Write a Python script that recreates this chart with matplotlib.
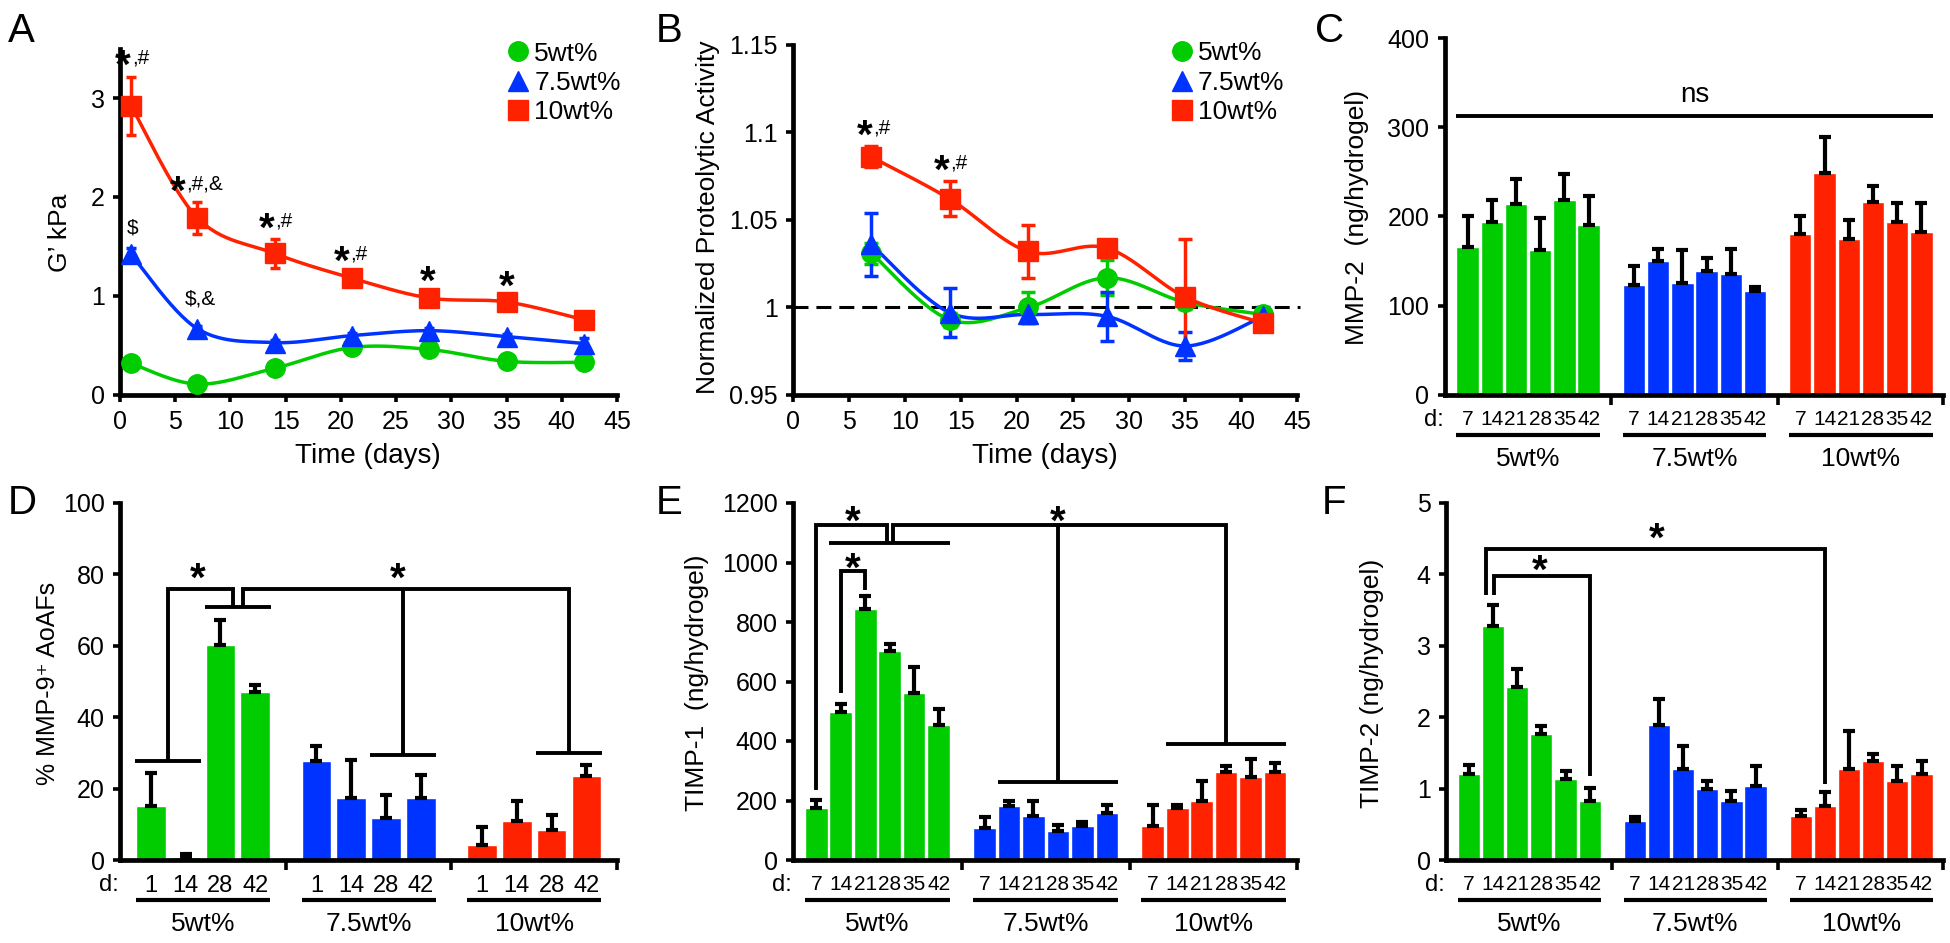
import numpy as np
import matplotlib
matplotlib.use('Agg')
import matplotlib.pyplot as plt
from matplotlib.lines import Line2D
from matplotlib.ticker import FormatStrFormatter
from matplotlib.transforms import blended_transform_factory, offset_copy

plt.rcParams['font.family'] = ['Liberation Sans', 'DejaVu Sans']
plt.rcParams['font.size'] = 18

# ---------------- data ----------------
groups = ['5wt%', '7.5wt%', '10wt%']
colors = ['#00cc00', '#0033ff', '#ff2200']
markers = ['o', '^', 's']

# A: storage modulus G' (kPa)
a_days = [1, 7, 14, 21, 28, 35, 42]
a_5 = [0.32, 0.11, 0.27, 0.48, 0.46, 0.34, 0.33]
a_5_err = [0.03, 0.03, 0.03, 0.03, 0.04, 0.02, 0.02]
a_75 = [1.42, 0.67, 0.53, 0.60, 0.65, 0.59, 0.52]
a_75_err = [0.06, 0.03, 0.03, 0.03, 0.03, 0.03, 0.06]
a_10 = [2.92, 1.79, 1.43, 1.18, 0.98, 0.94, 0.76]
a_10_err = [0.29, 0.16, 0.15, 0.07, 0.06, 0.05, 0.03]

# B: normalized proteolytic activity
b_days = [7, 14, 21, 28, 35, 42]
b_5 = [1.031, 0.993, 1.000, 1.017, 1.003, 0.996]
b_5_err = [0.006, 0.004, 0.009, 0.010, 0.004, 0.003]
b_75 = [1.036, 0.997, 0.996, 0.995, 0.978, 0.995]
b_75_err = [0.018, 0.014, 0.005, 0.014, 0.008, 0.005]
b_10 = [1.086, 1.062, 1.032, 1.034, 1.006, 0.991]
b_10_err = [0.006, 0.010, 0.015, 0.003, 0.033, 0.004]

# C: MMP-2 (ng/hydrogel)
six_days = ['7', '14', '21', '28', '35', '42']
c_5 = [166, 194, 214, 163, 219, 191]
c_5_err = [35, 24, 28, 35, 29, 32]
c_75 = [123, 150, 125, 139, 136, 117]
c_75_err = [22, 14, 38, 15, 28, 4]
c_10 = [180, 249, 175, 216, 194, 183]
c_10_err = [20, 40, 21, 18, 21, 32]

# D: % MMP-9+ AoAFs
four_days = ['1', '14', '28', '42']
d_5 = [15.2, 0.8, 60.2, 47.0]
d_5_err = [9.3, 0.8, 7.0, 2.0]
d_75 = [27.6, 17.3, 11.7, 17.3]
d_75_err = [4.4, 10.6, 6.5, 6.5]
d_10 = [4.2, 11.0, 8.4, 23.6]
d_10_err = [5.0, 5.6, 4.2, 3.0]

# E: TIMP-1 (ng/hydrogel)
e_5 = [174, 497, 844, 704, 563, 454]
e_5_err = [28, 26, 45, 21, 85, 54]
e_75 = [106, 182, 148, 99, 115, 157]
e_75_err = [37, 18, 52, 19, 12, 28]
e_10 = [114, 174, 198, 297, 280, 297]
e_10_err = [71, 11, 69, 20, 61, 28]

# F: TIMP-2 (ng/hydrogel)
f_5 = [1.21, 3.28, 2.42, 1.76, 1.14, 0.83]
f_5_err = [0.12, 0.29, 0.25, 0.11, 0.11, 0.18]
f_75 = [0.55, 1.89, 1.27, 1.00, 0.83, 1.04]
f_75_err = [0.05, 0.37, 0.33, 0.11, 0.14, 0.28]
f_10 = [0.62, 0.76, 1.27, 1.38, 1.11, 1.21]
f_10_err = [0.08, 0.19, 0.53, 0.11, 0.21, 0.18]

# significance bracket heights
D_TOP, D_MID, D_LOW, D_BLUE, D_RED = 75.9, 71.0, 27.6, 29.4, 30.1
E_TOP, E_SUB, E_G7, E_BLUE, E_RED = 1126, 1066, 235, 262, 390
E_IN_L, E_IN_TOP, E_IN_R = 561, 971, 907
F_START, F_OUT, F_IN, F_R14, F_G42 = 3.71, 4.36, 3.98, 1.07, 1.18
C_NS = 313

W, H = 1950, 943
fig = plt.figure(figsize=(W / 100, H / 100), dpi=100)


def px_axes(x0, x1, ytop, ybot):
    return fig.add_axes([x0 / W, 1 - ybot / H, (x1 - x0) / W, (ybot - ytop) / H])


def style(ax):
    for s in ['top', 'right']:
        ax.spines[s].set_visible(False)
    for s in ['left', 'bottom']:
        ax.spines[s].set_linewidth(3.4)
    ax.tick_params(which='major', direction='out', length=5, width=2.6, labelsize=18, pad=6)


def smooth(x, y, n=30):
    # Excel-style smoothed line (Bezier through the points)
    x = np.asarray(x, float)
    y = np.asarray(y, float)
    px = np.concatenate([[x[0]], x, [x[-1]]])
    py = np.concatenate([[y[0]], y, [y[-1]]])
    t = np.linspace(0, 1, n)
    xs, ys = [], []
    for i in range(1, len(px) - 2):
        for p, out in ((px, xs), (py, ys)):
            p0, p1, p2, p3 = p[i - 1], p[i], p[i + 1], p[i + 2]
            c1 = p1 + (p2 - p0) / 6
            c2 = p2 - (p3 - p1) / 6
            out.extend((1 - t) ** 3 * p1 + 3 * (1 - t) ** 2 * t * c1 + 3 * (1 - t) * t ** 2 * c2 + t ** 3 * p2)
    return xs, ys


def sig(ax, x, y, suffix='', star=True):
    if star:
        ax.annotate('*', (x, y), xytext=(0, -15), textcoords='offset points',
                    ha='right' if suffix else 'center', va='baseline', fontsize=29,
                    fontweight='bold', annotation_clip=False)
    if suffix:
        ax.annotate(suffix, (x, y), xytext=(0.5, -4.7), textcoords='offset points',
                    ha='left' if star else 'center', va='baseline', fontsize=15,
                    annotation_clip=False)


def bracket(ax, xs, ys):
    ax.plot(xs, ys, color='black', lw=2.8, solid_capstyle='butt',
            solid_joinstyle='miter', clip_on=False, zorder=4)


def line_panel(ax, days, series, errs, cap):
    for vals, err, c, m in zip(series, errs, colors, markers):
        sx, sy = smooth(days, vals)
        ax.plot(sx, sy, color=c, lw=2.5, zorder=2)
        ax.errorbar(days, vals, yerr=err, fmt='none', ecolor=c, elinewidth=2.5,
                    capsize=cap, capthick=2.5, zorder=3)
        ax.plot(days, vals, ls='none', marker=m, ms=15 if m == '^' else 14,
                color=c, zorder=4, clip_on=False)
    ax.set_xlim(0, 45)
    ax.set_xticks(range(0, 46, 5))
    hand = [Line2D([], [], ls='none', marker=m, ms=15 if m == '^' else 14, color=c)
            for c, m in zip(colors, markers)]
    return hand


def bar_panel(ax, series, errs, labels, stride, width, xlim, lab_size):
    n = len(labels)
    xs = [[g * stride + j for j in range(n)] for g in range(3)]
    for g in range(3):
        ax.bar(xs[g], series[g], width=width, color=colors[g], edgecolor='white',
               linewidth=1, zorder=2)
        ax.errorbar(xs[g], series[g], yerr=[[0] * n, errs[g]], fmt='none', ecolor='black',
                    elinewidth=3, capsize=4.5, capthick=3, zorder=3)
    ax.set_xlim(*xlim)
    bounds = [(xs[g][-1] + xs[g + 1][0]) / 2 for g in range(2)] + [xlim[1]]
    ax.set_xticks(bounds)
    ax.set_xticklabels([])
    ax.set_xticks([x for row in xs for x in row], minor=True)
    ax.set_xticklabels(labels * 3, minor=True, fontsize=lab_size)
    ax.tick_params(axis='x', which='minor', length=0, pad=11)
    ax.tick_params(axis='x', which='major', length=7)
    tr = blended_transform_factory(ax.transData, ax.transAxes)
    under = offset_copy(tr, fig=fig, y=-40, units='dots')
    glab = offset_copy(tr, fig=fig, y=-71, units='dots')
    for g in range(3):
        ax.plot([xs[g][0] - width / 2, xs[g][-1] + width / 2], [0, 0], transform=under,
                color='black', lw=3, clip_on=False, solid_capstyle='butt')
        ax.text(np.mean(xs[g]), 0, groups[g], transform=glab, ha='center',
                va='baseline', fontsize=19)
    dtr = offset_copy(ax.transAxes, fig=fig, x=-1, y=-31, units='dots')
    ax.text(0, 0, 'd:', transform=dtr, ha='right', va='baseline', fontsize=17)
    return xs


def label(x, y, s, **kw):
    fig.text(x / W, 1 - y / H, s, **kw)


# ---------------- A ----------------
axA = px_axes(120, 617, 48.5, 395)
style(axA)
hand = line_panel(axA, a_days, [a_5, a_75, a_10], [a_5_err, a_75_err, a_10_err], 3.6)
axA.set_ylim(0, 3.5)
axA.set_yticks([0, 1, 2, 3])
axA.legend(hand, groups, loc='upper left', bbox_to_anchor=(0.775, 1.02), frameon=False,
           handlelength=1.0, handletextpad=0.1, labelspacing=0.2, borderpad=0,
           borderaxespad=0, fontsize=19)
sig(axA, 1.0, 3.41, ',#')
sig(axA, 5.95, 2.14, ',#,&')
sig(axA, 1.1, 1.70, '\\$', star=False)
sig(axA, 7.2, 0.98, '\\$,&', star=False)
sig(axA, 14.0, 1.77, ',#')
sig(axA, 20.8, 1.43, ',#')
sig(axA, 27.9, 1.23)
sig(axA, 35.0, 1.18)

# ---------------- B ----------------
axB = px_axes(793, 1297, 45, 395)
style(axB)
hand = line_panel(axB, b_days, [b_5, b_75, b_10], [b_5_err, b_75_err, b_10_err], 5)
axB.set_ylim(0.95, 1.15)
axB.set_yticks([0.95, 1.0, 1.05, 1.1, 1.15])
axB.yaxis.set_major_formatter(FormatStrFormatter('%g'))
axB.axhline(1.0, xmin=0, xmax=1.006, color='black', lw=2.2, ls=(0, (4.9, 2.6)),
            clip_on=False, zorder=1)
axB.legend(hand, groups, loc='upper left', bbox_to_anchor=(0.745, 1.01), frameon=False,
           handlelength=1.0, handletextpad=0.1, labelspacing=0.2, borderpad=0,
           borderaxespad=0, fontsize=19)
sig(axB, 7.1, 1.103, ',#')
sig(axB, 14.0, 1.083, ',#')

# ---------------- C ----------------
axC = px_axes(1444.5, 1943, 38, 395)
style(axC)
xc = bar_panel(axC, [c_5, c_75, c_10], [c_5_err, c_75_err, c_10_err], six_days,
               6.87, 0.92, (-0.95, 19.63), 15)
axC.set_ylim(0, 400)
axC.set_yticks(range(0, 401, 100))
bracket(axC, [xc[0][0] - 0.46, xc[2][-1] + 0.46], [C_NS, C_NS])
axC.text((xc[0][0] + xc[2][-1]) / 2, 328, 'ns', ha='center', va='baseline', fontsize=20)

# ---------------- D ----------------
axD = px_axes(120, 617, 503, 860)
style(axD)
xd = bar_panel(axD, [d_5, d_75, d_10], [d_5_err, d_75_err, d_10_err], four_days,
               4.76, 0.85, (-0.886, 13.4), 17)
axD.set_ylim(0, 100)
axD.set_yticks(range(0, 101, 20))
hw = 0.45
jl = (xd[0][0] + xd[0][1]) / 2
jr = (xd[0][2] + xd[0][3]) / 2
blue_c = (xd[1][2] + xd[1][3]) / 2
red_c = (xd[2][2] + xd[2][3]) / 2
bracket(axD, [xd[0][0] - hw, xd[0][1] + hw], [D_LOW, D_LOW])
bracket(axD, [jl, jl, jr - 0.15, jr - 0.15], [D_LOW, D_TOP, D_TOP, D_MID])
bracket(axD, [xd[0][2] - hw, xd[0][3] + hw], [D_MID, D_MID])
bracket(axD, [jr + 0.15, jr + 0.15, red_c, red_c], [D_MID, D_TOP, D_TOP, D_RED])
bracket(axD, [blue_c, blue_c], [D_TOP, D_BLUE])
bracket(axD, [xd[1][2] - hw, xd[1][3] + hw], [D_BLUE, D_BLUE])
bracket(axD, [xd[2][2] - hw, xd[2][3] + hw], [D_RED, D_RED])
sig(axD, 1.35, 81.2)
sig(axD, 7.1, 81.2)

# ---------------- E ----------------
axE = px_axes(793, 1297, 503, 860)
style(axE)
xe = bar_panel(axE, [e_5, e_75, e_10], [e_5_err, e_75_err, e_10_err], six_days,
               6.87, 0.92, (-0.95, 19.63), 15)
axE.set_ylim(0, 1200)
axE.set_yticks(range(0, 1201, 200))
hw = 0.46
sub_c = np.mean(xe[0][1:])
blue_c = np.mean(xe[1][1:])
red_c = np.mean(xe[2][1:])
bracket(axE, [xe[0][0], xe[0][0], sub_c - 0.13, sub_c - 0.13], [E_G7, E_TOP, E_TOP, E_SUB])
bracket(axE, [xe[0][1] - hw, xe[0][5] + hw], [E_SUB, E_SUB])
bracket(axE, [sub_c + 0.13, sub_c + 0.13, red_c, red_c], [E_SUB, E_TOP, E_TOP, E_RED])
bracket(axE, [blue_c, blue_c], [E_TOP, E_BLUE])
bracket(axE, [xe[1][1] - hw, xe[1][5] + hw], [E_BLUE, E_BLUE])
bracket(axE, [xe[2][1] - hw, xe[2][5] + hw], [E_RED, E_RED])
bracket(axE, [xe[0][1], xe[0][1], xe[0][2], xe[0][2]], [E_IN_L, E_IN_TOP, E_IN_TOP, E_IN_R])
sig(axE, 1.5, 1166)
sig(axE, blue_c, 1166)
sig(axE, 1.5, 1008)

# ---------------- F ----------------
axF = px_axes(1446, 1943, 503, 860)
style(axF)
xf = bar_panel(axF, [f_5, f_75, f_10], [f_5_err, f_75_err, f_10_err], six_days,
               6.87, 0.92, (-0.95, 19.63), 15)
axF.set_ylim(0, 5)
axF.set_yticks(range(0, 6))
bracket(axF, [xf[0][1] - 0.3, xf[0][1] - 0.3, xf[2][1], xf[2][1]], [F_START, F_OUT, F_OUT, F_R14])
bracket(axF, [xf[0][1] + 0.05, xf[0][1] + 0.05, xf[0][5], xf[0][5]], [F_START, F_IN, F_IN, F_G42])
sig(axF, 7.77, 4.62)
sig(axF, 2.95, 4.17)

# ---------------- labels ----------------
for s, x, y in [('A', 8, 12), ('B', 656, 12), ('C', 1315, 12),
                ('D', 8, 484), ('E', 656, 484), ('F', 1322, 484)]:
    label(x, y, s, fontsize=29, ha='left', va='top')

label(368, 463, 'Time (days)', ha='center', va='baseline', fontsize=20)
label(1045, 463, 'Time (days)', ha='center', va='baseline', fontsize=20)
label(60, 233, 'G’ kPa', rotation=90, ha='center', va='center', fontsize=19)
label(708, 217, 'Normalized Proteolytic Activity', rotation=90, ha='center', va='center', fontsize=19)
label(1357, 217, 'MMP-2  (ng/hydrogel)', rotation=90, ha='center', va='center', fontsize=19)
label(48, 683, '% MMP-9⁺ AoAFs', rotation=90, ha='center', va='center', fontsize=18)
label(697, 683, 'TIMP-1  (ng/hydrogel)', rotation=90, ha='center', va='center', fontsize=19)
label(1372, 683, 'TIMP-2 (ng/hydrogel)', rotation=90, ha='center', va='center', fontsize=19)

fig.savefig('out.png', dpi=100)
